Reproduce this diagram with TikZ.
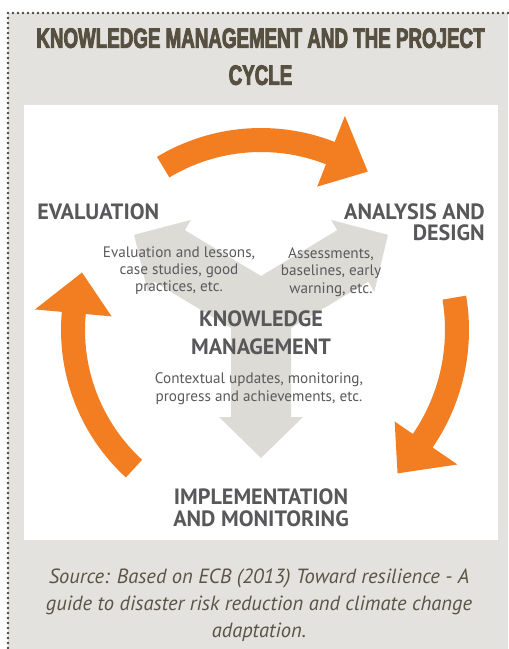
\documentclass[tikz,border=0pt]{standalone}
\usepackage{fontspec}
\usepackage{xcolor}
\usepackage{tikz}
\usetikzlibrary{positioning}

\setmainfont{PT Sans}
\newfontfamily\titlefont{Liberation Sans}[FakeStretch=0.67,BoldFeatures={FakeBold=3}]

\definecolor{kmorange}{HTML}{F37E22}
\definecolor{kmgray}{HTML}{DCDBD6}
\definecolor{kmback}{HTML}{E3E2DE}
\definecolor{kmtitle}{HTML}{574F3F}
\definecolor{kmtext}{HTML}{58585A}
\definecolor{kmnote}{HTML}{5A5A5C}
\definecolor{kmsource}{HTML}{5A5446}
\definecolor{kmdots}{HTML}{4A463E}

\begin{document}
\begin{tikzpicture}[x=0.75pt,y=-0.75pt,every node/.style={inner sep=0pt},heading/.style={text=kmtext,font=\bfseries\fontsize{16.6}{15.75}\selectfont},note/.style={text=kmnote,font=\fontsize{11.4}{13.1}\selectfont,align=center},cyclearrow/.style={fill=kmorange},kmarrow/.style={fill=kmgray}]
    \useasboundingbox (0,0) rectangle (508,649);
    \fill[white] (0,0) rectangle (508,649);
    \fill[kmback] (8,13) rectangle (508,649);
    \draw[kmdots,line width=2pt,line cap=round,dash pattern=on 0pt off 3.75pt] (508,13) -- (8,13) -- (8,649);
    \fill[white] (24,105) rectangle (498,540);

    % knowledge management arrows
    \fill[kmarrow] (261,276) -- (337.2,230.2) -- (331.1,219.9) -- (387.9,234.8) -- (374.3,291.9) -- (368.2,281.6) -- (291,328) -- (291,417) -- (303,417) -- (261,458) -- (219,417) -- (231,417) -- (231,328) -- (153.8,281.6) -- (147.7,291.9) -- (134.1,234.8) -- (190.9,219.9) -- (184.8,230.2) -- cycle;

    % the project cycle
    \begin{scope}[shift={(261,330)}]
	\fill[cyclearrow] (-121:202) arc[start angle=-121,end angle=-68.6,radius=202] -- (-68.6:230) -- (-56:191) -- (-68.6:154) -- (-68.6:178) arc[start angle=-68.6,end angle=-121,radius=178] -- cycle;
	\fill[cyclearrow] (-9.5:208) arc[start angle=-9.5,end angle=34.4,radius=208] -- (34.4:238) -- (46.4:198) -- (34.4:162) -- (34.4:184) arc[start angle=34.4,end angle=-9.5,radius=184] -- cycle;
	\fill[cyclearrow] (132.5:200) arc[start angle=132.5,end angle=185.2,radius=200] -- (185.2:227) -- (197.8:188) -- (185.2:150) -- (185.2:176) arc[start angle=185.2,end angle=132.5,radius=176] -- cycle;
    \end{scope}

    \node[anchor=north,align=center,text=kmtitle,font=\titlefont\bfseries\fontsize{21}{27.75}\selectfont] (title) at (260.5,28) {KNOWLEDGE MANAGEMENT AND THE PROJECT\\CYCLE};
    \node[heading,anchor=north west] (evaluation) at (37,203) {EVALUATION};
    \node[heading,anchor=north east,align=right] (analysis) at (485,203) {ANALYSIS AND\\DESIGN};
    \node[heading,anchor=north,align=center,font=\bfseries\fontsize{16.6}{21}\selectfont] (km) at (261,310) {KNOWLEDGE\\MANAGEMENT};
    \node[heading,anchor=north,align=center,font=\bfseries\fontsize{16.6}{16.5}\selectfont] (implementation) at (261,488) {IMPLEMENTATION\\AND MONITORING};
    \node[note,anchor=north] (evalnote) at (179,246) {Evaluation and lessons,\\case studies, good\\practices, etc.};
    \node[note,anchor=north] (analysisnote) at (331,247) {Assessments,\\baselines, early\\warning, etc.};
    \node[note,anchor=north,font=\fontsize{11.4}{13.5}\selectfont] (kmnote) at (259,372) {Contextual updates, monitoring,\\progress and achievements, etc.};
    \node[anchor=north,align=center,text=kmsource,font=\itshape\fontsize{15.4}{20.25}\selectfont] (source) at (259,569) {Source: Based on ECB (2013) Toward resilience - A\\guide to disaster risk reduction and climate change\\adaptation.};
\end{tikzpicture}
\end{document}
